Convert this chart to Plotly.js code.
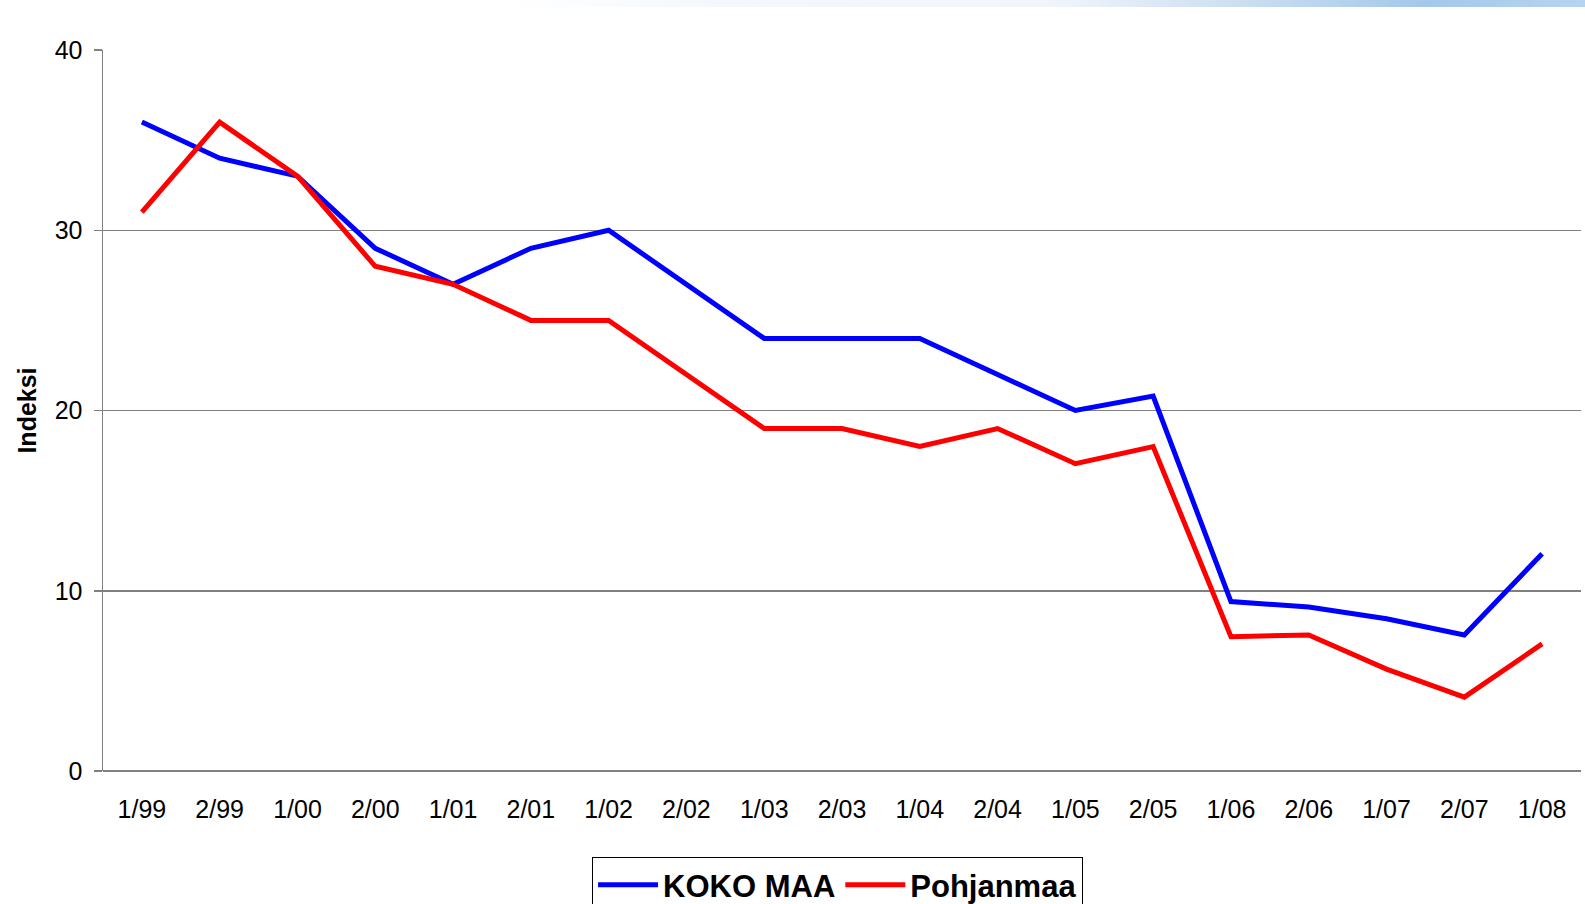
<!DOCTYPE html>
<html>
<head>
<meta charset="utf-8">
<script src="https://cdn.plot.ly/plotly-3.0.1.min.js"></script>
<style>
  html, body { margin: 0; padding: 0; background: #ffffff; }
  #chart { width: 1585px; height: 904px; }
  #topbar {
    position: absolute; left: 500px; top: 0; width: 1085px; height: 7px;
    background: linear-gradient(to right, rgba(255,255,255,0) 0%, #f4f8fc 20%, #f2f6fb 50%, #c8dcf0 70%, #a3c8ea 85%, #b6d4ef 100%);
    pointer-events: none; z-index: 5;
  }
</style>
</head>
<body>
<div id="chart"></div>
<div id="topbar"></div>
<script>
const categories = ["1/99","2/99","1/00","2/00","1/01","2/01","1/02","2/02","1/03","2/03","1/04","2/04","1/05","2/05","1/06","2/06","1/07","2/07","1/08"];
const kokoMaa    = [36, 34, 33, 29, 27, 29, 30, 27, 24, 24, 24, 22, 20, 20.8, 9.4, 9.1, 8.45, 7.55, 12.05];
const pohjanmaa  = [31, 36, 33, 28, 27, 25, 25, 22, 19, 19, 18, 19, 17.05, 18, 7.45, 7.55, 5.65, 4.1, 7.05];
const seriesNames = ["KOKO MAA", "Pohjanmaa"];
const yTicks = [0, 10, 20, 30, 40];

const FONT = "Liberation Sans, Arial, sans-serif";

const traces = [
  { x: categories, y: kokoMaa, name: seriesNames[0], type: "scatter", mode: "lines",
    line: { color: "#0000ff", width: 5 } },
  { x: categories, y: pohjanmaa, name: seriesNames[1], type: "scatter", mode: "lines",
    line: { color: "#ff0000", width: 5 } }
];

const layout = {
  width: 1585, height: 904,
  margin: { l: 103, r: 4, t: 50, b: 133, autoexpand: false },
  paper_bgcolor: "#ffffff", plot_bgcolor: "#ffffff",
  font: { family: FONT, color: "#000000", size: 25 },
  showlegend: true,
  legend: {
    orientation: "h", x: 0.497, xanchor: "center",
    yref: "container", y: 0.052, yanchor: "top",
    bordercolor: "#000000", borderwidth: 1, bgcolor: "#ffffff",
    font: { family: FONT, size: 31, color: "#000000", weight: "bold" },
    itemwidth: 60, tracegroupgap: 0
  },
  xaxis: {
    type: "category", tickvals: categories, ticktext: categories,
    range: [-0.5, categories.length - 0.5], automargin: false,
    showgrid: false, zeroline: false,
    showline: false, ticks: "", ticklabelstandoff: 21,
    tickfont: { family: FONT, size: 25, color: "#000000" },
    fixedrange: true
  },
  yaxis: {
    range: [0, 40], tickvals: yTicks, automargin: false,
    showgrid: true, gridcolor: "#808080", gridwidth: 1.5,
    zeroline: true, zerolinecolor: "#808080", zerolinewidth: 1.5,
    showline: true, linecolor: "#808080", linewidth: 1.5,
    ticks: "outside", ticklen: 8, tickcolor: "#808080", tickwidth: 1.5,
    ticklabelstandoff: 6,
    tickfont: { family: FONT, size: 25, color: "#000000" },
    title: { text: "<b>Indeksi</b>", font: { family: FONT, size: 25, color: "#000000" }, standoff: 11 },
    fixedrange: true
  }
};

Plotly.newPlot("chart", traces, layout, { displayModeBar: false, staticPlot: true });
</script>
</body>
</html>
